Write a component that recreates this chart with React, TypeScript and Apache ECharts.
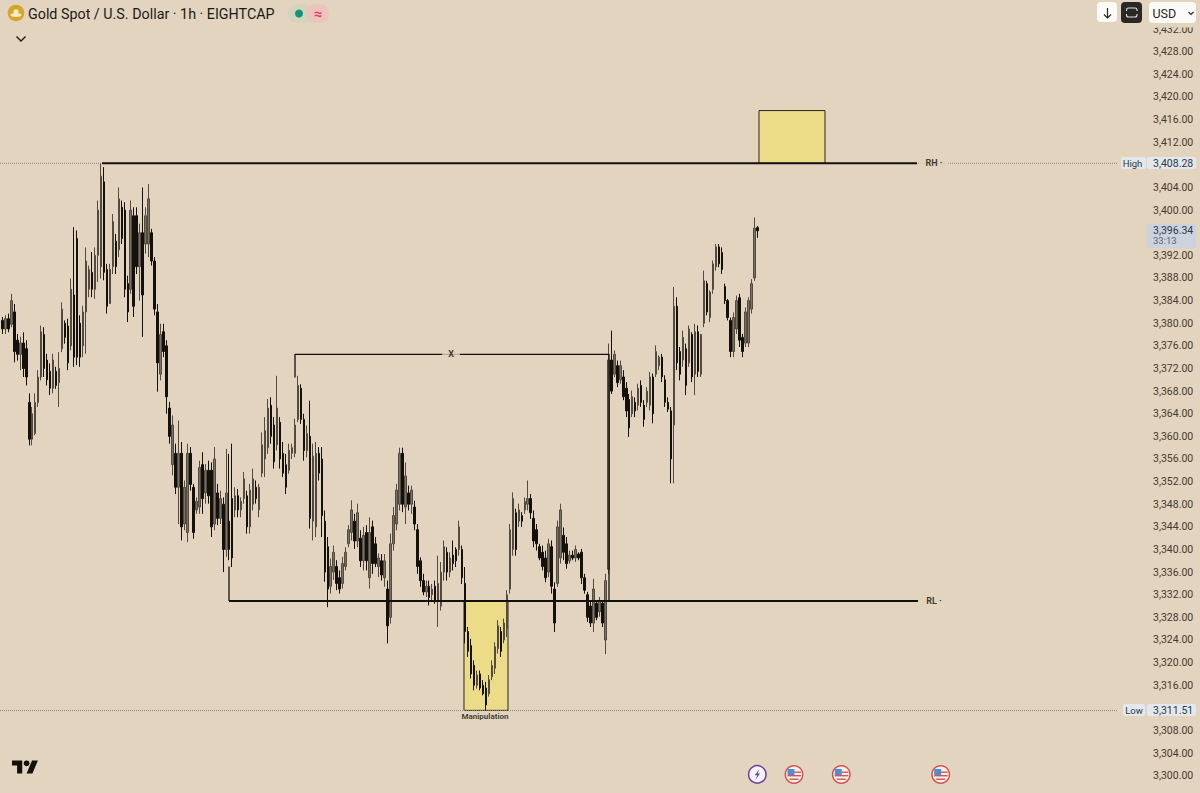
import React, { useEffect, useRef } from "react";
import * as echarts from "echarts";

// Candles, one per bar from the left edge of the chart
const highs = [
  3381.1,3381.4,3381.7,3385.2,3383.4,3378.1,3377.6,3378.4,3377.0,3367.6,
  3365.2,3367.6,3371.7,3379.6,3379.3,3374.6,3372.9,3374.6,3372.3,3374.9,
  3383.7,3380.5,3380.8,3387.9,3397.0,3396.4,3381.4,3383.1,3393.4,3390.2,
  3392.6,3393.4,3401.7,3408.28,3407.6,3390.5,3390.5,3399.3,3395.8,3404.0,
  3401.7,3401.4,3388.4,3401.7,3400.5,3400.5,3397.6,3404.0,3400.5,3404.6,
  3396.7,3391.7,3383.4,3379.9,3379.9,3377.0,3366.1,3363.7,3358.7,3362.8,
  3359.0,3352.2,3358.7,3358.1,3351.6,3349.2,3355.7,3357.2,3355.1,3355.7,
  3355.4,3358.1,3351.6,3350.4,3349.2,3357.8,3356.9,3358.7,3351.0,3350.7,
  3349.2,3353.7,3350.4,3351.6,3354.3,3352.2,3351.6,3360.7,3363.4,3366.6,
  3366.9,3363.4,3370.7,3363.4,3359.0,3356.9,3358.7,3358.7,3363.1,3370.7,
  3369.2,3364.0,3361.9,3366.3,3358.7,3359.0,3358.1,3358.1,3346.9,3342.2,
  3338.4,3340.7,3338.1,3336.3,3338.7,3340.4,3344.3,3348.7,3346.3,3348.1,
  3343.4,3344.0,3344.3,3345.7,3345.1,3342.2,3339.3,3339.2,3339.2,3334.5,
  3342.8,3347.5,3351.6,3358.0,3358.0,3355.4,3351.3,3351.3,3348.6,3344.5,
  3338.6,3335.7,3334.5,3334.5,3333.9,3334.5,3338.9,3337.8,3341.6,3340.4,
  3339.5,3341.6,3340.4,3345.1,3340.7,3336.9,3326.3,3324.2,3320.4,3318.6,
  3318.6,3316.9,3316.6,3317.8,3320.4,3323.6,3327.5,3326.3,3327.8,3332.8,
  3344.5,3350.1,3347.2,3348.1,3346.6,3349.2,3352.2,3349.8,3346.9,3344.5,
  3341.0,3340.7,3339.8,3341.9,3341.6,3334.2,3345.1,3348.1,3343.9,3342.2,
  3339.8,3339.8,3340.7,3339.5,3340.1,3335.7,3332.5,3331.0,3334.8,3331.0,
  3331.6,3331.0,3335.7,3376.4,3378.7,3375.2,3373.4,3373.4,3371.7,3369.6,
  3367.5,3368.1,3366.9,3369.3,3369.9,3366.4,3368.7,3371.4,3371.1,3376.1,
  3374.3,3374.6,3370.8,3366.9,3365.2,3386.4,3384.6,3375.8,3378.7,3376.4,
  3379.6,3378.4,3379.9,3379.6,3378.1,3389.3,3387.5,3385.8,3391.1,3394.0,
  3394.0,3393.4,3387.0,3384.3,3381.0,3381.9,3384.9,3385.2,3378.1,3382.8,
  3384.6,3387.8,3398.7,3397.2,
];
const lows = [
  3378.1,3378.1,3378.4,3379.3,3373.1,3373.4,3371.7,3370.5,3369.0,3358.4,
  3358.4,3360.2,3365.2,3369.9,3370.5,3369.0,3367.3,3367.6,3368.4,3365.2,
  3374.9,3376.4,3371.7,3375.2,3372.3,3372.6,3372.3,3374.0,3374.6,3384.6,
  3384.6,3384.3,3387.3,3387.9,3387.6,3381.7,3383.4,3388.7,3388.7,3391.7,
  3394.0,3384.6,3380.2,3385.2,3381.1,3388.7,3384.0,3377.6,3392.3,3391.7,
  3390.2,3381.4,3367.9,3369.9,3374.0,3364.0,3358.7,3353.1,3349.8,3344.5,
  3341.6,3343.4,3341.3,3350.4,3341.9,3346.3,3346.3,3346.3,3348.1,3348.1,
  3342.2,3343.4,3344.3,3344.5,3336.0,3338.7,3338.1,3336.9,3345.7,3345.7,
  3345.7,3348.1,3342.8,3342.8,3346.9,3348.1,3345.7,3352.8,3352.8,3356.9,
  3358.7,3354.3,3357.5,3354.3,3352.8,3349.8,3353.4,3356.0,3356.3,3362.5,
  3362.2,3355.7,3356.3,3343.7,3341.6,3342.2,3352.2,3342.2,3334.3,3329.8,
  3332.2,3334.6,3332.8,3332.2,3333.1,3336.3,3340.4,3341.6,3340.1,3340.4,
  3336.9,3336.3,3336.3,3333.1,3335.7,3336.9,3335.1,3334.5,3333.4,3323.4,
  3326.9,3339.8,3343.4,3346.9,3346.6,3344.5,3346.9,3346.3,3343.4,3335.7,
  3333.4,3331.9,3331.6,3330.1,3331.0,3330.4,3326.3,3329.2,3334.5,3334.5,
  3335.1,3336.3,3336.9,3338.9,3333.9,3323.4,3321.0,3317.2,3315.1,3315.4,
  3315.1,3314.2,3311.51,3314.0,3316.9,3318.0,3321.6,3321.0,3323.4,3324.5,
  3332.2,3338.9,3338.9,3344.0,3344.0,3346.3,3346.9,3345.4,3340.4,3339.8,
  3338.1,3336.3,3334.2,3335.1,3332.2,3325.4,3333.4,3337.5,3338.1,3336.6,
  3337.5,3338.1,3337.8,3338.1,3333.9,3332.2,3327.2,3326.3,3325.4,3327.5,
  3328.1,3326.3,3321.5,3335.7,3367.5,3370.5,3368.7,3369.3,3366.4,3363.4,
  3359.9,3363.4,3363.4,3364.6,3365.2,3361.7,3365.2,3364.6,3362.3,3370.5,
  3371.7,3369.6,3365.2,3364.3,3351.7,3351.7,3371.7,3369.9,3372.3,3367.3,
  3372.3,3369.6,3367.3,3370.5,3370.5,3379.3,3381.4,3380.2,3385.2,3389.3,
  3389.9,3388.7,3383.4,3380.5,3374.0,3374.0,3378.1,3375.8,3374.0,3375.8,
  3375.8,3381.7,3387.5,3395.1,
];
const opens = [
  3380.5,3379.0,3380.8,3379.8,3382.0,3377.0,3374.5,3376.5,3375.5,3366.0,
  3359.5,3360.5,3366.0,3370.5,3378.0,3373.5,3371.5,3368.5,3371.5,3369.5,
  3375.5,3380.0,3379.5,3376.0,3385.0,3395.0,3380.0,3376.0,3382.0,3386.0,
  3389.0,3386.0,3392.0,3390.0,3405.0,3389.5,3383.5,3390.0,3394.5,3393.0,
  3400.5,3400.0,3387.0,3386.0,3399.0,3399.0,3390.0,3396.0,3394.0,3394.0,
  3396.0,3391.0,3382.0,3371.0,3378.5,3376.0,3365.0,3355.0,3357.0,3351.0,
  3357.0,3344.5,3343.0,3357.0,3351.0,3347.0,3347.5,3355.0,3350.0,3354.0,
  3354.0,3344.5,3350.0,3345.5,3348.0,3340.0,3345.0,3349.0,3347.0,3349.5,
  3347.0,3349.0,3349.5,3344.0,3348.0,3351.0,3347.0,3353.5,3356.0,3358.0,
  3365.5,3362.0,3358.5,3362.5,3357.0,3355.0,3354.0,3357.0,3357.0,3363.0,
  3368.5,3363.0,3357.5,3360.0,3345.0,3344.0,3357.0,3356.0,3345.0,3340.5,
  3333.5,3336.0,3337.0,3335.0,3334.0,3337.0,3341.0,3343.0,3345.0,3341.5,
  3342.0,3338.0,3343.0,3335.0,3344.0,3341.0,3337.0,3338.0,3335.0,3333.0,
  3328.0,3341.0,3344.5,3348.0,3357.0,3347.5,3350.0,3348.0,3347.5,3343.5,
  3338.0,3334.5,3332.5,3333.5,3332.0,3333.5,3331.0,3330.0,3336.0,3339.5,
  3336.0,3339.0,3340.0,3340.0,3340.0,3334.0,3325.5,3323.0,3319.5,3316.0,
  3318.0,3316.0,3315.5,3314.5,3317.5,3319.0,3322.5,3325.5,3324.0,3326.0,
  3333.0,3340.0,3346.5,3345.0,3346.0,3347.0,3348.0,3349.0,3345.5,3343.5,
  3340.5,3339.5,3338.5,3336.0,3340.5,3333.0,3334.0,3338.5,3342.5,3341.0,
  3338.0,3339.0,3338.5,3339.2,3339.5,3335.0,3332.0,3330.0,3327.0,3330.5,
  3329.0,3330.5,3324.0,3336.5,3373.5,3371.0,3372.5,3370.0,3370.5,3368.5,
  3366.5,3364.0,3366.0,3365.5,3369.0,3365.5,3366.0,3365.5,3370.5,3371.0,
  3372.5,3374.0,3370.0,3366.0,3364.5,3362.0,3383.0,3375.0,3373.5,3375.5,
  3373.0,3378.0,3371.0,3378.5,3371.0,3380.0,3387.0,3381.0,3386.0,3390.0,
  3393.5,3392.5,3386.5,3384.0,3380.5,3375.0,3379.0,3384.5,3377.5,3376.5,
  3376.5,3382.5,3388.0,3396.9,
];
const closes = [
  3379.0,3380.8,3379.0,3384.0,3375.0,3374.5,3376.5,3372.0,3370.5,3359.5,
  3364.0,3366.0,3370.5,3378.5,3372.0,3370.0,3368.5,3373.5,3369.0,3372.0,
  3382.5,3377.5,3373.0,3386.0,3374.0,3374.0,3374.0,3382.0,3391.0,3389.5,
  3386.0,3392.0,3400.0,3406.0,3389.0,3383.0,3389.5,3398.0,3390.0,3402.0,
  3395.0,3386.0,3382.0,3400.0,3383.0,3390.0,3396.0,3385.0,3399.0,3402.0,
  3391.0,3382.5,3373.0,3378.0,3375.0,3367.0,3360.0,3362.0,3351.0,3357.0,
  3344.0,3351.0,3357.0,3351.5,3343.0,3348.5,3354.5,3349.0,3354.0,3349.5,
  3344.0,3356.0,3345.5,3349.0,3340.0,3350.0,3340.0,3338.5,3349.5,3347.0,
  3348.5,3352.5,3344.0,3350.5,3352.5,3349.0,3351.0,3358.5,3361.0,3365.0,
  3360.0,3355.5,3365.0,3356.0,3353.5,3351.0,3357.5,3358.0,3362.0,3369.0,
  3363.0,3357.5,3360.5,3345.5,3356.5,3357.0,3353.5,3346.0,3336.0,3333.0,
  3337.0,3339.5,3334.0,3333.0,3337.5,3339.5,3343.5,3347.0,3341.5,3346.5,
  3338.0,3342.5,3338.0,3343.0,3337.5,3337.5,3338.5,3335.5,3338.0,3326.5,
  3341.0,3346.0,3350.5,3357.0,3348.0,3353.0,3348.0,3350.5,3344.5,3337.0,
  3334.5,3332.5,3333.5,3331.5,3333.0,3331.0,3334.0,3336.0,3340.5,3336.0,
  3338.5,3337.5,3338.0,3344.0,3335.0,3325.5,3322.0,3318.0,3316.0,3317.8,
  3315.5,3314.5,3312.5,3317.0,3319.5,3322.8,3326.5,3322.0,3327.0,3332.0,
  3343.5,3349.0,3340.0,3347.0,3345.0,3348.5,3349.0,3346.5,3341.5,3341.0,
  3338.5,3337.0,3335.0,3341.0,3333.5,3327.0,3344.0,3347.0,3339.5,3337.5,
  3339.0,3338.5,3340.0,3338.5,3335.0,3332.8,3328.0,3327.0,3333.0,3328.0,
  3331.0,3327.0,3334.5,3373.5,3368.0,3374.5,3369.5,3372.5,3367.0,3364.5,
  3361.5,3367.0,3364.5,3368.5,3366.0,3363.0,3368.0,3370.5,3364.0,3375.0,
  3374.0,3370.5,3366.0,3364.8,3356.0,3383.0,3373.0,3371.0,3377.5,3369.0,
  3379.0,3370.5,3378.5,3371.5,3378.0,3387.5,3382.0,3385.5,3390.5,3393.5,
  3390.5,3389.5,3384.0,3381.0,3375.0,3381.0,3384.0,3377.0,3375.0,3382.0,
  3384.0,3387.0,3396.8,3396.34,
];

// Price levels and annotation ends (x in bars from the left edge, y in dollars)
const HIGH = 3408.28;
const LOW = 3311.51;
const RANGE_LOW = 3330.9;
const X_LEVEL = 3374.5;
const rhLine = [[33.87, HIGH], [306.9, HIGH]];
const rlLine = [[76.42, RANGE_LOW], [307.24, RANGE_LOW]];
const rlStem = [[76.42, 3337], [76.42, RANGE_LOW]];
const xLine = [[98.53, 3370.4], [98.53, X_LEVEL], [203.72, X_LEVEL], [203.72, RANGE_LOW]];
const highDots = [[-0.3, HIGH], [374.24, HIGH]];
const lowDots = [[-0.3, LOW], [374.24, LOW]];
const targetBox = [[253.97, 3417.6], [276.08, HIGH]];
const manipulationBox = [[155.14, RANGE_LOW], [169.88, LOW + 0.05]];
const labels: [number, number, string, number][] = [
  [312.6, HIGH, "RH ·", 9],
  [312.6, RANGE_LOW, "RL ·", 9],
  [150.79, X_LEVEL, "X", 9],
  [162.18, 3310.4, "Manipulation", 8],
];
const flagCentres = [794, 841.3, 940.7];
const hiddenTicks = [3436, 3408, 3396, 3312];

const BG = "#e2d4be";
const INK = "#14100c";
const SANS = "Roboto, Inter, sans-serif";

echarts.graphic.registerShape(
  "tvlogo",
  echarts.graphic.extendPath("M14 22H7V11H0V4h14v18zM28 22h-8l7.5-18h8L28 22z", {})
);

function chrome(): any[] {
  const z = 100;
  const rect = (x: number, y: number, w: number, h: number, fill: string, r = 0, zz = z) => ({
    type: "rect", z: zz, shape: { x, y, width: w, height: h, r }, style: { fill },
  });
  const text = (x: number, y: number, t: string, font: string, fill: string, align = "left") => ({
    type: "text", z: z + 1, x, y, style: { text: t, font, fill, align, verticalAlign: "middle" },
  });
  const stroke = (points: number[][], color: string, lineWidth = 1.4) => ({
    type: "polyline", z: z + 1, shape: { points }, style: { stroke: color, lineWidth, fill: "none" },
  });
  const circle = (cx: number, cy: number, r: number, fill: string, s?: string, lw = 1.5) => ({
    type: "circle", z: z + 1, shape: { cx, cy, r }, style: { fill, stroke: s, lineWidth: s ? lw : 0 },
  });

  const els: any[] = [
    // header strip over the scale
    rect(1140, 0, 60, 27.5, BG, 0, 99),
    // symbol
    circle(16, 13, 8.3, "#d3a72e"),
    { type: "ellipse", z: z + 2, shape: { cx: 16, cy: 15, rx: 5.5, ry: 2 }, style: { fill: "#f7edc8" } },
    { type: "ellipse", z: z + 2, shape: { cx: 16, cy: 11.5, rx: 2.6, ry: 2.2 }, style: { fill: "#f7edc8" } },
    text(28, 13.5, "Gold Spot / U.S. Dollar · 1h · EIGHTCAP", `14.3px ${SANS}`, "#1c1a17"),
    stroke([[16.5, 36.5], [21, 41], [25.5, 36.5]], "#1c1a17", 1.4),
    // status pills
    rect(288, 4, 24, 19, "#d2d4bb", 9),
    rect(306, 4, 23, 19, "#ebc5bd", 9),
    circle(299, 13.5, 4, "#11927c"),
    text(318, 13.5, "≈", `bold 15px ${SANS}`, "#e2446e", "center"),
    // scroll button
    rect(1097, 2, 20, 20, "#fbfaf7", 4),
    { type: "line", z: z + 1, shape: { x1: 1107.5, y1: 8, x2: 1107.5, y2: 18 }, style: { stroke: "#2a2826", lineWidth: 1.2 } },
    stroke([[1104, 14.5], [1107.5, 18], [1111, 14.5]], "#2a2826", 1.2),
    // auto button
    rect(1121, 2, 21, 21, "#2a2825", 4),
    { type: "rect", z: z + 1, shape: { x: 1126.5, y: 8, width: 10.5, height: 9, r: 2 }, style: { fill: "none", stroke: "#e6e2da", lineWidth: 1.1 } },
    rect(1125, 11, 14, 3, "#2a2825", 0, z + 2),
    // currency button
    rect(1149, 2, 47, 21, "#fbfaf7", 4),
    text(1152.5, 13.5, "USD", `12.5px ${SANS}`, "#2a2826"),
    stroke([[1188.5, 12], [1191, 14.5], [1193.5, 12]], "#2a2826", 1.2),
    // high tag
    rect(1121, 157, 25, 12, "#e3e8ec", 2),
    rect(1147, 157, 49, 12, "#e3e8ec", 2),
    text(1132.5, 163.2, "High", `9.5px ${SANS}`, "#2b3a4a", "center"),
    text(1153, 163.2, "3,408.28", `10.5px ${SANS}`, "#2b3a4a"),
    // price tag
    rect(1147, 224, 49, 24, "#ccd3de"),
    text(1153, 230.5, "3,396.34", `10.5px ${SANS}`, "#2b3a4a"),
    text(1153, 240.5, "33:13", `9.5px ${SANS}`, "#5a6470"),
    // low tag
    rect(1123, 704, 22, 12, "#e3e8ec", 2),
    rect(1147, 704, 49, 12, "#e3e8ec", 2),
    text(1134, 710.3, "Low", `9.5px ${SANS}`, "#2b3a4a", "center"),
    text(1153, 710.3, "3,311.51", `10.5px ${SANS}`, "#2b3a4a"),
    // logo
    { type: "tvlogo", z, x: 12, y: 757.5, scaleX: 0.73, scaleY: 0.73, style: { fill: "#14100c" } },
    circle(12 + 20 * 0.73, 757.5 + 8 * 0.73, 4 * 0.73, "#14100c"),
    // lightning event
    circle(757.3, 774.4, 8.7, "#f7f4f7", "#6a3fa0"),
    { type: "polygon", z: z + 2, shape: { points: [[759.5, 769], [754.8, 775.2], [757.3, 775.2], [755.3, 780], [760, 773.6], [757.6, 773.6]] }, style: { fill: "#6a3fa0" } },
  ];
  flagCentres.forEach((cx) => {
    const cy = 774.5;
    els.push(
      circle(cx, cy, 8.7, "#f5f1ea", "#d6524e"),
      { type: "rect", z: z + 2, shape: { x: cx - 6.5, y: cy - 5.5, width: 7, height: 6 }, style: { fill: "#4a8fd6" } },
      { type: "rect", z: z + 2, shape: { x: cx + 0.5, y: cy - 3, width: 6.5, height: 1.4 }, style: { fill: "#d6524e" } },
      { type: "rect", z: z + 2, shape: { x: cx - 6.5, y: cy + 0.5, width: 13.5, height: 1.4 }, style: { fill: "#d6524e" } },
      { type: "rect", z: z + 2, shape: { x: cx - 4.5, y: cy + 4, width: 9, height: 1.4 }, style: { fill: "#d6524e" } }
    );
  });
  return els;
}

const lineSeries = (data: number[][], width: number, extra: any = {}) => ({
  type: "line",
  data,
  z: 6,
  silent: true,
  symbol: "none",
  animation: false,
  lineStyle: { color: INK, width, ...(extra.lineStyle || {}) },
});

export default function App() {
  const ref = useRef<HTMLDivElement>(null);
  useEffect(() => {
    document.body.style.margin = "0";
    document.body.style.background = BG;
    const chart = echarts.init(ref.current!, undefined, { renderer: "svg" });
    const candles = opens.map((o, i) => [i + 0.5, o, closes[i], lows[i], highs[i]]);
    chart.setOption({
      animation: false,
      backgroundColor: BG,
      grid: { left: 0, width: 1118, top: 6.5, height: 791.85, containLabel: false, outerBoundsMode: "none" },
      xAxis: { type: "value", min: -0.3, max: 374.24, show: false },
      yAxis: {
        type: "value",
        position: "right",
        min: 3296,
        max: 3436,
        interval: 4,
        axisLine: { show: false },
        axisTick: { show: false },
        splitLine: { show: false },
        axisLabel: {
          margin: 35,
          showMinLabel: false,
          color: "#453a2e",
          fontFamily: "Roboto, Inter, sans-serif",
          fontSize: 10.5,
          formatter: (v: number) =>
            hiddenTicks.includes(v)
              ? ""
              : v.toLocaleString("en-US", { minimumFractionDigits: 2, maximumFractionDigits: 2 }),
        },
      },
      series: [
        {
          type: "line",
          data: [],
          z: 1,
          silent: true,
          markArea: {
            silent: true,
            z: 1,
            itemStyle: { color: "#ecdc88", borderColor: "#2b2620", borderWidth: 1 },
            label: { show: false },
            data: [
              [{ coord: targetBox[0] }, { coord: targetBox[1] }],
              [{ coord: manipulationBox[0] }, { coord: manipulationBox[1] }],
            ],
          },
        },
        {
          type: "candlestick",
          data: candles,
          z: 3,
          barWidth: 2,
          itemStyle: {
            color: "#7a7063",
            color0: INK,
            borderColor: "#544b40",
            borderColor0: INK,
            borderWidth: 1,
          },
        },
        lineSeries(highDots, 1, { lineStyle: { type: "dotted", color: "#8d8474" } }),
        lineSeries(lowDots, 1, { lineStyle: { type: "dotted", color: "#8d8474" } }),
        lineSeries(rhLine, 2),
        lineSeries(rlLine, 2),
        lineSeries(rlStem, 1.3),
        lineSeries(xLine, 1.3),
        {
          type: "scatter",
          z: 7,
          silent: true,
          symbolSize: 0,
          data: labels.map(([x, y, t, size]) => ({
            value: [x, y],
            name: t,
            label: { fontSize: size, padding: t === "Manipulation" ? [0, 0] : [1, 6] },
          })),
          label: {
            show: true,
            position: "inside",
            formatter: (p: any) => p.name,
            color: "#14100c",
            fontFamily: "Roboto, Inter, sans-serif",
            fontWeight: "bold",
            backgroundColor: BG,
          },
        },
      ],
      graphic: chrome(),
    });
    return () => chart.dispose();
  }, []);
  return (
    <div
      ref={ref}
      style={{ position: "fixed", left: 0, top: 0, width: 1200, height: 793 }}
    />
  );
}
